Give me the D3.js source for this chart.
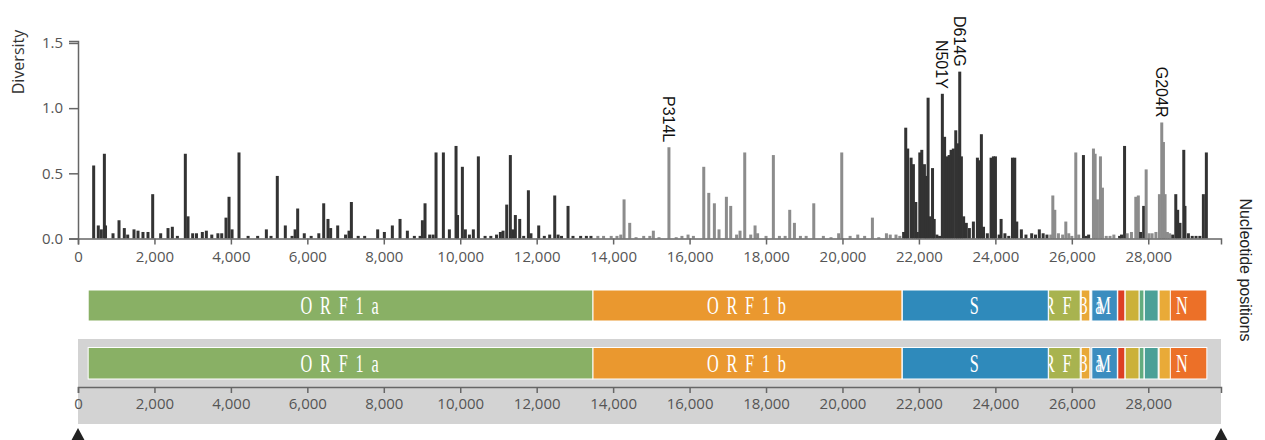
<!DOCTYPE html>
<html>
<head>
<meta charset="utf-8">
<script src="https://cdn.jsdelivr.net/npm/d3@7"></script>
<style>
  body { margin: 0; background: #fff; }
  .axis text { font-family: "Open Sans", sans-serif; font-size: 15px; fill: #555; }
  .axis path, .axis line { stroke: #666; stroke-width: 1.5; }
</style>
</head>
<body>
<div id="chart"></div>
<script>
var genomeLength = 29903;

// genes in genome order
var geneNames  = ["ORF1a", "ORF1b", "S", "ORF3a", "E", "M", "ORF6", "ORF7a", "ORF7b", "ORF8", "N", "ORF9b"];
var geneStarts = [266, 13468, 21563, 25393, 26245, 26523, 27202, 27394, 27756, 27894, 28274, 28284];
var geneEnds   = [13468, 21555, 25384, 26220, 26472, 27191, 27387, 27759, 27887, 28259, 29533, 28577];
var geneColors = ["#89b065", "#ea982f", "#2f8abb", "#a8b34f", "#e8a838", "#3b8dbf",
                  "#dd3f24", "#cbb13a", "#62ac7f", "#4ba097", "#ec7028", "#e9aa38"];

// entropy (diversity) per nucleotide site
var sitePositions = [
  410, 531, 610, 690, 720, 916, 1073, 1212, 1300, 1465, 1570, 1700, 1831, 1954, 2163, 2355, 2468, 2600,
  2808, 2878, 3000, 3100, 3253, 3358, 3500, 3660, 3760, 3872, 3951, 4030, 4212, 4450, 4700, 4928, 5050,
  5214, 5424, 5600, 5680, 5747, 5920, 6100, 6300, 6428, 6540, 6610, 6794, 7000, 7090, 7152, 7330, 7500,
  7840, 8015, 8224, 8425, 8617, 8800, 8950, 9010, 9079, 9200, 9290, 9367, 9559, 9716, 9890, 9930, 10056,
  10134, 10240, 10343, 10474, 10650, 10800, 10950, 11050, 11120, 11216, 11311, 11370, 11442, 11556, 11660,
  11783, 11850, 12053, 12200, 12340, 12472, 12560, 12650, 12820, 12950, 13150, 13300, 13420,
  13600, 13750, 13950, 14100, 14200, 14286, 14434, 14600, 14800, 14960, 15052, 15200, 15460, 15650, 15800,
  15960, 16100, 16371, 16502, 16649, 16770, 16963, 17076, 17230, 17320, 17443, 17600, 17713, 17780, 18000,
  18192, 18350, 18500, 18620, 18743, 18900, 19050, 19249, 19500, 19700, 19900, 19981, 20200, 20400, 20580,
  20783, 20950, 21150, 21250, 21400, 21500,
  21600, 21655, 21707, 21795, 21856, 21918, 21960, 22023, 22075, 22144, 22187, 22240, 22290, 22356, 22400,
  22470, 22540, 22613, 22672, 22734, 22790, 22842, 22900, 22964, 23010, 23068, 23111, 23170, 23240, 23320,
  23425, 23530, 23580, 23634, 23690, 23790, 23888, 23949, 24002, 24100, 24150, 24250, 24350, 24447, 24507,
  24560, 24680, 24800, 24950, 25050, 25150, 25250, 25350,
  25450, 25503, 25555, 25650, 25760, 25843, 25920, 26000, 26104, 26180, 26304, 26380, 26440, 26566, 26610,
  26670, 26749, 26801, 26900, 27000, 27100, 27250, 27300, 27380, 27450, 27560, 27674, 27740, 27800, 27880,
  27945, 28020, 28100, 28200, 28292, 28353, 28397, 28440, 28500, 28560, 28640, 28720, 28770, 28830, 28929,
  28960, 29050, 29150, 29250, 29350, 29442, 29520
];
var siteDiversity = [
  0.56, 0.10, 0.07, 0.65, 0.10, 0.04, 0.14, 0.08, 0.03, 0.07, 0.06, 0.05, 0.05, 0.34, 0.04, 0.08, 0.09, 0.02,
  0.65, 0.17, 0.04, 0.04, 0.05, 0.06, 0.03, 0.04, 0.04, 0.16, 0.32, 0.07, 0.66, 0.02, 0.02, 0.07, 0.02,
  0.48, 0.10, 0.02, 0.07, 0.23, 0.04, 0.02, 0.04, 0.27, 0.15, 0.08, 0.10, 0.03, 0.06, 0.28, 0.02, 0.02,
  0.07, 0.05, 0.10, 0.15, 0.06, 0.02, 0.02, 0.14, 0.27, 0.03, 0.03, 0.66, 0.66, 0.07, 0.71, 0.18, 0.55,
  0.07, 0.03, 0.07, 0.63, 0.02, 0.02, 0.03, 0.05, 0.06, 0.26, 0.64, 0.07, 0.18, 0.15, 0.02,
  0.37, 0.04, 0.10, 0.02, 0.03, 0.33, 0.03, 0.02, 0.25, 0.02, 0.02, 0.02, 0.02,
  0.02, 0.02, 0.02, 0.02, 0.03, 0.30, 0.12, 0.01, 0.02, 0.02, 0.06, 0.01, 0.70, 0.01, 0.02,
  0.03, 0.02, 0.55, 0.35, 0.27, 0.07, 0.32, 0.25, 0.03, 0.06, 0.66, 0.03, 0.10, 0.04, 0.02,
  0.64, 0.02, 0.02, 0.22, 0.12, 0.02, 0.02, 0.27, 0.02, 0.01, 0.04, 0.66, 0.02, 0.03, 0.02,
  0.16, 0.01, 0.04, 0.03, 0.03, 0.02,
  0.05, 0.85, 0.69, 0.62, 0.57, 0.28, 0.05, 0.66, 0.68, 0.57, 0.48, 1.08, 0.17, 0.54, 0.15,
  0.03, 0.02, 1.11, 0.78, 0.63, 0.64, 0.68, 0.69, 0.83, 0.73, 1.28, 0.63, 0.17, 0.12, 0.08,
  0.13, 0.62, 0.60, 0.80, 0.09, 0.04, 0.62, 0.63, 0.63, 0.03, 0.15, 0.04, 0.02, 0.62, 0.62,
  0.13, 0.07, 0.03, 0.04, 0.03, 0.07, 0.04, 0.03,
  0.03, 0.33, 0.22, 0.04, 0.03, 0.13, 0.04, 0.02, 0.66, 0.03, 0.64, 0.02, 0.03, 0.69, 0.65,
  0.30, 0.63, 0.39, 0.02, 0.02, 0.03, 0.02, 0.03, 0.71, 0.04, 0.05, 0.32, 0.33, 0.05, 0.25,
  0.53, 0.04, 0.04, 0.05, 0.34, 0.89, 0.74, 0.34, 0.05, 0.04, 0.03, 0.34, 0.22, 0.12, 0.68,
  0.25, 0.04, 0.02, 0.02, 0.02, 0.34, 0.66
];

var mutationNames = ["P314L", "N501Y", "D614G", "G204R"];
var mutationPositions = [15460, 22613, 23068, 28353];

var yTicks = [0, 0.5, 1.0, 1.5];
var xTicks = [0, 2000, 4000, 6000, 8000, 10000, 12000, 14000, 16000, 18000, 20000, 22000, 24000, 26000, 28000];

var width = 1265, height = 440;
var svg = d3.select("#chart").append("svg")
    .attr("width", width)
    .attr("height", height);

var x = d3.scaleLinear().domain([0, genomeLength]).range([78, 1221]);
var y = d3.scaleLinear().domain([0, 1.515]).range([238.5, 41]);

// which gene a site belongs to (the innermost one wins)
function geneAt(pos) {
    var best = -1;
    for (var i = 0; i < geneNames.length; i++) {
        if (pos >= geneStarts[i] && pos <= geneEnds[i]) {
            if (best < 0 || geneStarts[i] > geneStarts[best]) best = i;
        }
    }
    return best;
}

var sites = sitePositions.map(function (p, i) {
    return { pos: p, value: siteDiversity[i], gene: geneAt(p) };
});

// entropy bars, alternating dark / light by gene
svg.append("g").selectAll("rect")
    .data(sites)
    .enter().append("rect")
    .attr("x", function (d) { return x(d.pos) - 1.5; })
    .attr("y", function (d) { return y(d.value); })
    .attr("width", 3)
    .attr("height", function (d) { return y(0) - y(d.value); })
    .attr("fill", function (d) { return d.gene % 2 == 1 ? "#8c8c8c" : "#333333"; });

// axes
svg.append("g")
    .attr("class", "axis")
    .attr("transform", "translate(78,0)")
    .call(d3.axisLeft(y).tickValues(yTicks).tickFormat(d3.format(".1f")).tickSize(9).tickPadding(6));

svg.append("g")
    .attr("class", "axis")
    .attr("transform", "translate(0," + y(0) + ")")
    .call(d3.axisBottom(x).tickValues(xTicks).tickFormat(d3.format(",")).tickSize(6).tickPadding(7));

svg.append("text")
    .attr("transform", "translate(24,62) rotate(-90)")
    .attr("text-anchor", "middle")
    .style("font-family", "'Open Sans', sans-serif")
    .style("font-size", "16px")
    .style("fill", "#333")
    .text("Diversity");

svg.append("text")
    .attr("transform", "translate(1240,270) rotate(90)")
    .attr("text-anchor", "middle")
    .style("font-family", "'Liberation Sans', Arial, sans-serif")
    .style("font-size", "16px")
    .style("fill", "#222")
    .text("Nucleotide positions");

// mutation labels above their bars
svg.append("g").selectAll("text")
    .data(mutationNames)
    .enter().append("text")
    .attr("transform", function (d, i) {
        var p = mutationPositions[i];
        var v = siteDiversity[sitePositions.indexOf(p)];
        return "translate(" + (x(p) - 6) + "," + (y(v) - 5) + ") rotate(90)";
    })
    .attr("text-anchor", "end")
    .style("font-family", "'Liberation Sans', Arial, sans-serif")
    .style("font-size", "16px")
    .style("fill", "#111")
    .text(function (d) { return d; });

// gene map: later genes drawn first so earlier labels sit on top,
// nested genes (ORF9b inside N) drawn last
var drawOrder = d3.range(geneNames.length).reverse();
var nested = drawOrder.filter(function (i) {
    return geneNames.some(function (n, j) { return j != i && geneStarts[j] <= geneStarts[i] && geneEnds[j] >= geneEnds[i]; });
});
drawOrder = drawOrder.filter(function (i) { return nested.indexOf(i) < 0; }).concat(nested);

function drawGenes(g, top, h) {
    var gene = g.selectAll(".gene")
        .data(drawOrder)
        .enter().append("g")
        .attr("class", "gene");
    gene.append("rect")
        .attr("x", function (i) { return x(geneStarts[i]); })
        .attr("y", top)
        .attr("width", function (i) { return x(geneEnds[i]) - x(geneStarts[i]); })
        .attr("height", h)
        .attr("fill", function (i) { return geneColors[i]; })
        .attr("stroke", "#fff")
        .attr("stroke-width", 1);
    gene.filter(function (i) { return x(geneEnds[i]) - x(geneStarts[i]) > 20; })
        .append("text")
        .attr("transform", function (i) {
            var cx = (x(geneStarts[i]) + x(geneEnds[i])) / 2 + 3;
            return "translate(" + cx + "," + (top + h / 2 + 8.5) + ") scale(0.65,1)";
        })
        .attr("text-anchor", "middle")
        .style("font-family", "'Liberation Serif', 'DejaVu Serif', serif")
        .style("font-size", "25px")
        .style("letter-spacing", "12px")
        .style("fill", "#fff")
        .text(function (i) { return geneNames[i]; });
}

drawGenes(svg.append("g"), 290, 31);

// lower navigation strip
var nav = svg.append("g");
nav.append("rect")
    .attr("x", x(0))
    .attr("y", 339)
    .attr("width", x(genomeLength) - x(0))
    .attr("height", 85)
    .attr("fill", "#d3d3d3");
drawGenes(nav.append("g"), 347.5, 31.5);
nav.append("g")
    .attr("class", "axis")
    .attr("transform", "translate(0,387)")
    .call(d3.axisBottom(x).tickValues(xTicks).tickFormat(d3.format(",")).tickSize(6).tickPadding(5));

// brush handles
nav.selectAll(".handle")
    .data([0, genomeLength])
    .enter().append("path")
    .attr("class", "handle")
    .attr("d", function (d) {
        var cx = x(d);
        return "M" + cx + ",428 L" + (cx + 7) + ",441 L" + (cx - 7) + ",441 Z";
    })
    .attr("fill", "#222");
</script>
</body>
</html>
